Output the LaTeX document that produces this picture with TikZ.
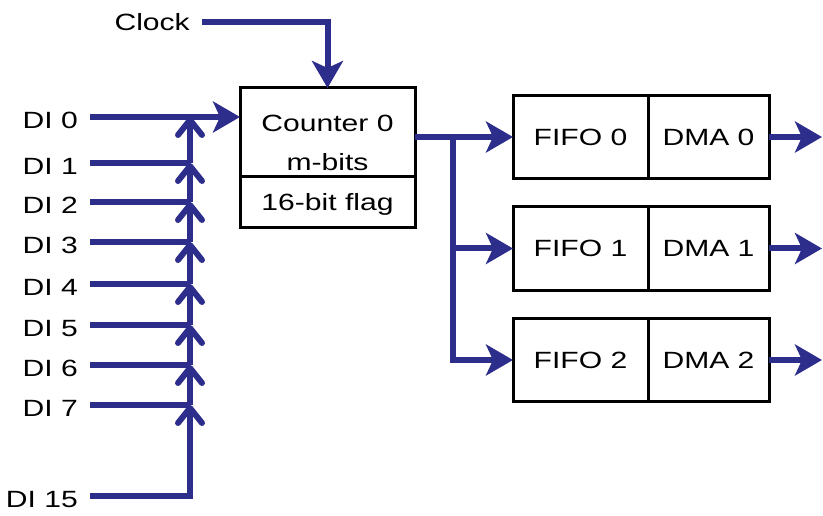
\documentclass[tikz,border=0pt]{standalone}
\usepackage{fontspec}
\setmainfont{Liberation Sans}[FakeStretch=1.28]
\usepackage{tikz}
\usetikzlibrary{arrows.meta}
\definecolor{wireblue}{RGB}{45,45,140}

\begin{document}
\begin{tikzpicture}
		[x=1pt,y=-1pt, font=\fontsize{23.5}{28}\selectfont,
		wire/.style={draw=wireblue, line width=6pt},
		feed/.style={wire, -{Stealth[length=27pt,width=31pt,inset=7pt]}},
		bus/.style={wire, -{Straight Barb[length=15pt,width=24pt,round]}},
		box/.style={draw, line width=3pt, outer sep=0, minimum height=83pt, text height=17pt, text depth=0pt, inner sep=0},
		lbl/.style={anchor=east, text height=17pt, text depth=0pt, inner xsep=12pt, inner ysep=0}]
		\useasboundingbox (0,0) rectangle (823,516);
		\node[box, minimum width=175pt, minimum height=89pt, anchor=north west] (counter) at (240,88) {};
		\node[align=center, font=\fontsize{23.5}{39}\selectfont] (countertext) at (327.5,142.5) {Counter 0\\m-bits};
		\node[box, minimum width=175pt, minimum height=51pt, anchor=north] (flag) at (counter.south) {16-bit flag};
		\foreach \i/\y in {0/137,1/248.5,2/360}
		{
			\node[box, minimum width=135pt, anchor=west] (fifo\i) at (513,\y) {FIFO \i};
			\node[box, minimum width=121pt, anchor=west] (dma\i) at (fifo\i.east) {DMA \i};
			\coordinate (out\i) at (822,\y);
			\draw[feed] (dma\i.east) -- (out\i);
		}
		\foreach \i/\y in {0/117,1/163,2/202,3/242,4/284,5/325,6/365,7/405,15/496}
		{
			\node[lbl] (di\i) at (90,\y+3) {DI \i};
			\coordinate (b\i) at (190,\y);
		}
		\node[lbl] (clock) at (202,22) {Clock};
		\foreach \i in {1,...,7}
			\draw[wire] (di\i.east |- b\i) -- (b\i);
		\draw[bus] (di15.east |- b15) -- (b15) -- (b7);
		\foreach \i/\j in {7/6,6/5,5/4,4/3,3/2,2/1,1/0}
			\draw[bus] (b\i) -- (b\j);
		\draw[feed] (di0.east |- b0) -- (b0 -| counter.west);
		\draw[feed] (clock.east) -| (counter.north);
		\coordinate (split) at (453,137);
		\draw[feed] (counter.east |- split) -- (fifo0.west);
		\draw[feed] (split) |- (fifo1.west);
		\draw[feed] (split) |- (fifo2.west);
	\end{tikzpicture}
\end{document}
